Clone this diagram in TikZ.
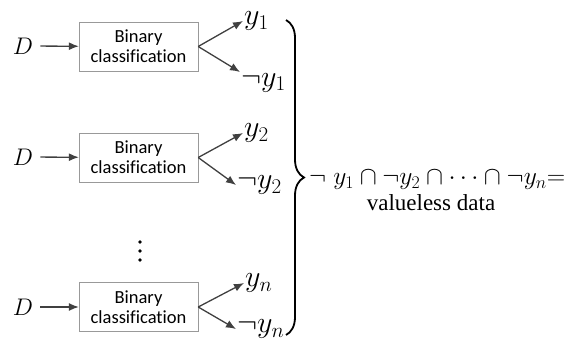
\RequirePackage{fix-cm}
\documentclass[tikz,border=0pt]{standalone}
\usepackage{fontspec}
\newfontfamily\boxfont{Carlito}[Ligatures={NoCommon}]
\newfontfamily\timesfont{Liberation Serif}
\usetikzlibrary{positioning,arrows.meta,decorations.pathreplacing}

\begin{document}
\begin{tikzpicture}[x=1pt, y=-1pt, >={Latex[length=10pt,width=8pt]}]
    \tikzstyle{block} = [draw=gray!80, rectangle, fill=white, minimum height=49pt, minimum width=119pt, align=center, font=\boxfont\fontsize{18.5}{20}\selectfont]
    \tikzstyle{line} = [draw=black!75, ->, line width=1.3pt]
    \tikzstyle{lbl} = [inner sep=1pt, font=\fontsize{24}{28}\selectfont]
    \tikzstyle{outlbl} = [inner sep=1pt, anchor=west, font=\fontsize{30}{32}\selectfont]

    \useasboundingbox (0,0) rectangle (577,340);

    % first classifier
    \node [lbl] (d1) at (23,46) {$D$};
    \node [block] (cls1) at (138.5,46.5) {Binary\\classification};
    \node [outlbl] (y1) at (243,21) {$y_1$};
    \node [outlbl, anchor=north west] (ny1) at (240,72) {$\neg y_1$};
    \draw [line, shorten <=6pt] (d1) -- (cls1);
    \draw [line] (cls1.east) -- (y1.west);
    \draw [line] (cls1.east) -- (ny1.north west);

    % second classifier
    \node [lbl] (d2) at (23,157) {$D$};
    \node [block] (cls2) at (138.5,157.5) {Binary\\classification};
    \node [outlbl] (y2) at (243,133) {$y_2$};
    \node [outlbl] (ny2) at (236,185) {$\neg y_2$};
    \draw [line, shorten <=6pt] (d2) -- (cls2);
    \draw [line] (cls2.east) -- (y2.west);
    \draw [line] (cls2.east) -- (ny2.west);

    % dots between the rows
    \fill (140,242) circle (1.9pt) (140,251) circle (1.9pt) (140,260) circle (1.9pt);

    % n-th classifier
    \node [lbl] (d3) at (23,307) {$D$};
    \node [block] (cls3) at (138.5,307) {Binary\\classification};
    \node [outlbl] (yn) at (244,283) {$y_n$};
    \node [outlbl] (nyn) at (236,329) {$\neg y_n$};
    \draw [line, shorten <=6pt] (d3) -- (cls3);
    \draw [line] (cls3.east) -- (yn.west);
    \draw [line] (cls3.east) -- (nyn.west);

    % brace and result
    \coordinate (btop) at (286,20);
    \coordinate (bbot) at (286,335);
    \draw [decorate, decoration={brace, amplitude=18pt}, line width=1.8pt] (btop) -- (bbot);
    \node [anchor=west, inner sep=1pt, font=\fontsize{25.5}{28}\selectfont] (expr) at (308,180) {$\neg\;y_1\cap\neg y_2\cap\cdots\cap\neg y_n{=}$};
    \node [font=\timesfont\fontsize{23}{26}\selectfont, inner sep=0pt] (note) at (431,203) {valueless data};
\end{tikzpicture}
\end{document}
